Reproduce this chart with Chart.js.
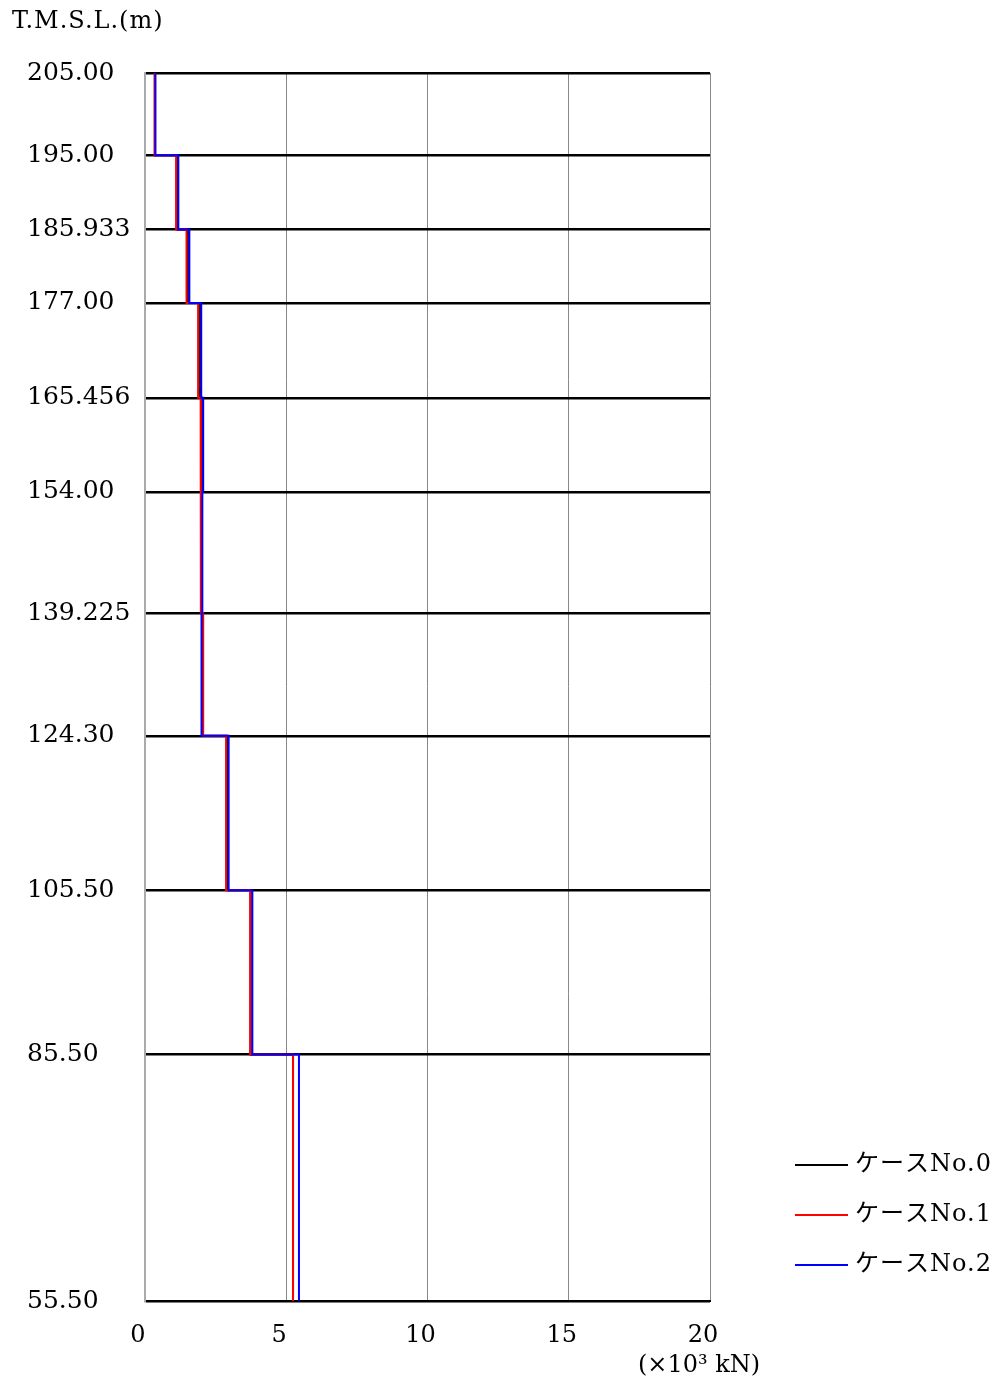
<!DOCTYPE html>
<html>
<head>
<meta charset="utf-8">
<script src="https://cdn.jsdelivr.net/npm/chart.js@4.4.1/dist/chart.umd.min.js"></script>
<style>
  body { margin: 0; background: #fff; }
</style>
</head>
<body>
<canvas id="axialChart" width="1008" height="1387"></canvas>
<script>
// elevation boundaries (T.M.S.L., m) and their printed labels
const elevations = [205, 195, 185.933, 177, 165.456, 154, 139.225, 124.3, 105.5, 85.5, 55.5];
const elevLabels = ['205.00', '195.00', '185.933', '177.00', '165.456', '154.00', '139.225', '124.30', '105.50', '85.50', '55.50'];

// value per segment (x10^3 kN), top segment first
const case0 = [0.35, 1.14, 1.52, 1.95, 2.02, 1.99, 2.02, 2.92, 3.74, 5.24];
const case1 = [0.34, 1.10, 1.47, 1.88, 1.97, 1.98, 2.06, 2.87, 3.72, 5.24];
const case2 = [0.37, 1.18, 1.57, 1.99, 2.06, 2.03, 2.00, 2.96, 3.80, 5.45];

const xTicks = [0, 5, 10, 15, 20];
const caseNames = ['ケースNo.0', 'ケースNo.1', 'ケースNo.2'];
const caseColors = ['#000000', '#ff0000', '#0000ff'];

const serif = "'DejaVu Serif', 'Noto Sans CJK JP', serif";

// turn segment values into step points
function stepPoints(vals) {
  const pts = [];
  vals.forEach((v, i) => {
    pts.push({ x: v, y: elevations[i] });
    pts.push({ x: v, y: elevations[i + 1] });
  });
  return pts;
}

const textPlugin = {
  id: 'extraText',
  afterDraw(chart) {
    const ctx = chart.ctx;
    const xs = chart.scales.x;
    ctx.save();
    ctx.fillStyle = '#000';
    ctx.textBaseline = 'middle';

    // axis titles
    ctx.font = '24px ' + serif;
    ctx.textAlign = 'left';
    ctx.letterSpacing = '1px';
    ctx.fillText('T.M.S.L.(m)', 12, 22);
    ctx.letterSpacing = '0px';
    ctx.textAlign = 'center';
    ctx.fillText('(×10³ kN)', xs.getPixelForValue(20) - 11, 1366);

    // legend
    ctx.textAlign = 'left';
    ctx.font = '24px ' + serif;
    ctx.letterSpacing = '1px';
    caseNames.forEach((name, i) => {
      const y = 1165 + i * 50;
      ctx.strokeStyle = caseColors[i];
      ctx.lineWidth = 2;
      ctx.beginPath();
      ctx.moveTo(795, y);
      ctx.lineTo(848, y);
      ctx.stroke();
      ctx.fillText(name, 855, y);
    });
    ctx.restore();
  }
};

new Chart(document.getElementById('axialChart'), {
  type: 'line',
  data: {
    datasets: [case0, case1, case2].map((vals, i) => ({
      label: caseNames[i],
      data: stepPoints(vals),
      borderColor: caseColors[i],
      borderWidth: 2,
      pointRadius: 0,
      tension: 0,
      fill: false,
      order: 3 - i
    }))
  },
  options: {
    responsive: false,
    animation: false,
    layout: { padding: { left: 27, right: 298, top: 73, bottom: 0 } },
    plugins: {
      legend: { display: false },
      tooltip: { enabled: false }
    },
    scales: {
      x: {
        type: 'linear',
        min: 0,
        max: 20,
        afterBuildTicks: scale => { scale.ticks = xTicks.map(v => ({ value: v })); },
        afterFit: scale => { scale.height = 86; },
        grid: { color: '#888', lineWidth: 1, drawTicks: false },
        border: { color: '#000', width: 2 },
        ticks: {
          color: '#000',
          font: { family: serif, size: 24 },
          padding: 20,
          labelOffset: -7,
          autoSkip: false,
          maxRotation: 0
        }
      },
      y: {
        type: 'linear',
        min: 55.5,
        max: 205,
        afterBuildTicks: scale => { scale.ticks = elevations.slice().reverse().map(v => ({ value: v })); },
        afterFit: scale => { scale.width = 118; },
        grid: { color: '#000', lineWidth: 2.5, drawTicks: false },
        border: { color: '#aaa', width: 2 },
        ticks: {
          color: '#000',
          font: { family: serif, size: 25 },
          crossAlign: 'far',
          autoSkip: false,
          callback: value => elevLabels[elevations.indexOf(value)]
        }
      }
    }
  },
  plugins: [textPlugin]
});
</script>
</body>
</html>
